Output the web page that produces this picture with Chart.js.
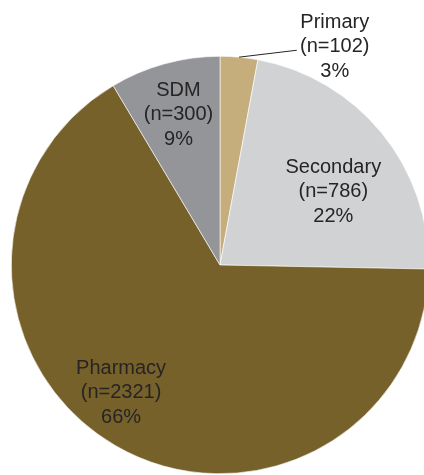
<!DOCTYPE html>
<html>
<head>
<meta charset="utf-8">
<script src="https://cdn.jsdelivr.net/npm/chart.js@4"></script>
<style>
  html, body { margin: 0; padding: 0; background: #fff; overflow: hidden; width: 424px; height: 475px; }
  #chart { position: absolute; left: 0; top: 0; }
</style>
</head>
<body>
<canvas id="chart" width="440" height="530"></canvas>
<script>
const categories = ['Primary', 'Secondary', 'Pharmacy', 'SDM'];
const counts = [102, 786, 2321, 300];
const percentLabels = ['3%', '22%', '66%', '9%'];
const sliceColors = ['#C5AE7C', '#D1D2D4', '#77612B', '#939598'];

// where each label block sits, relative to pie centre, in units of radius
const labelSpots = [
  { dx: 0.550, dy: -1.053, leader: true },
  { dx: 0.543, dy: -0.359 },
  { dx: -0.474, dy: 0.605 },
  { dx: -0.199, dy: -0.727 }
];

const pieLabels = {
  id: 'pieLabels',
  afterDatasetsDraw(chart) {
    const ctx = chart.ctx;
    const arcs = chart.getDatasetMeta(0).data;
    ctx.save();
    ctx.font = '20px "Liberation Sans", Arial, sans-serif';
    ctx.fillStyle = '#262425';
    ctx.textAlign = 'center';
    ctx.textBaseline = 'alphabetic';
    arcs.forEach((arc, i) => {
      const { x, y, outerRadius: r } = arc.getProps(['x', 'y', 'outerRadius'], true);
      const spot = labelSpots[i];
      const cx = x + spot.dx * r;
      const cy = y + spot.dy * r;
      const lines = [categories[i], '(n=' + counts[i] + ')', percentLabels[i]];
      lines.forEach((t, k) => {
        ctx.fillText(t, cx, cy + 7 + (k - 1) * 24.5);
      });
      if (spot.leader) {
        const a = (arc.startAngle + arc.endAngle) / 2;
        ctx.beginPath();
        ctx.strokeStyle = '#262425';
        ctx.lineWidth = 1;
        ctx.moveTo(x + Math.cos(a) * r, y + Math.sin(a) * r);
        ctx.lineTo(cx - 38, cy + 5);
        ctx.stroke();
      }
    });
    ctx.restore();
  }
};

new Chart(document.getElementById('chart'), {
  type: 'pie',
  data: {
    labels: categories,
    datasets: [{
      data: counts,
      backgroundColor: sliceColors,
      borderColor: '#ffffff',
      borderWidth: 0.6
    }]
  },
  options: {
    responsive: false,
    animation: false,
    layout: { padding: { top: 56, bottom: 56, left: 11, right: 11 } },
    plugins: {
      legend: { display: false },
      tooltip: { enabled: false }
    }
  },
  plugins: [pieLabels]
});
</script>
</body>
</html>
